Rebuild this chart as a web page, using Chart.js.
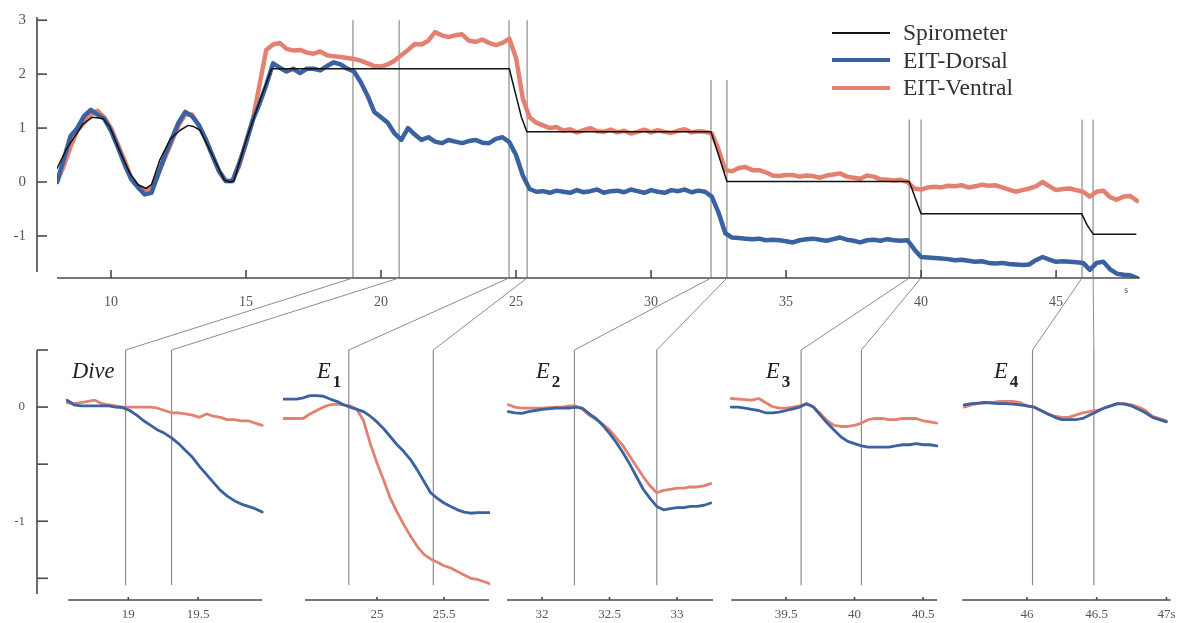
<!DOCTYPE html>
<html>
<head>
<meta charset="utf-8">
<script src="https://cdn.jsdelivr.net/npm/chart.js@4.4.1/dist/chart.umd.min.js"></script>
<style>
body{margin:0;background:#fff;}
#wrap{position:relative;width:1182px;height:623px;overflow:hidden;}
#wrap canvas{position:absolute;left:0;top:0;}
#legend{position:absolute;left:832px;top:19px;font:23.5px 'Liberation Serif',serif;color:#333;}
#legend .row{display:flex;align-items:center;height:27.5px;}
#legend .sw{display:inline-block;width:58px;margin-right:13px;}
.tag{position:absolute;top:360px;font:italic 22.5px/1 'Liberation Serif',serif;color:#222;}
.tag b{position:relative;top:9px;margin-left:2px;font:bold 17px/1 'Liberation Serif',serif;}
</style>
</head>
<body>
<div id="wrap">
	<div id="legend"></div>
	<div class="tag" style="left:72px">Dive</div>
	<div class="tag" style="left:317px">E<b>1</b></div>
	<div class="tag" style="left:536px">E<b>2</b></div>
	<div class="tag" style="left:766px">E<b>3</b></div>
	<div class="tag" style="left:994px">E<b>4</b></div>
</div>
<script>
const W = 1182, H = 623
const blue = "#3a62a0"
const red = "#e3806f"
const grey = "#555"
const serif = "'Liberation Serif', serif"

// ---- top panel (whole recording, sampled every 0.25 s from 8 s) ----
const topStart = 8, topStep = 0.25
const dorsalTop = [
	0.0, 0.42, 0.85, 1.0, 1.22, 1.34, 1.25, 1.17,
	0.95, 0.65, 0.33, 0.05, -0.1, -0.23, -0.2, 0.15,
	0.5, 0.8, 1.1, 1.3, 1.22, 1.06, 0.8, 0.5,
	0.2, 0.02, 0.02, 0.35, 0.72, 1.15, 1.45, 1.8,
	2.2, 2.12, 2.05, 2.1, 2.02, 2.1, 2.1, 2.07,
	2.15, 2.22, 2.18, 2.1, 2.05, 1.85, 1.6, 1.3,
	1.2, 1.1, 0.9, 0.78, 1.0, 0.88, 0.78, 0.83,
	0.75, 0.72, 0.78, 0.75, 0.72, 0.76, 0.78, 0.73,
	0.72, 0.8, 0.83, 0.74, 0.5, 0.12, -0.13, -0.18,
	-0.17, -0.2, -0.16, -0.18, -0.2, -0.15, -0.19, -0.17,
	-0.14, -0.2, -0.17, -0.16, -0.19, -0.14, -0.17, -0.2,
	-0.15, -0.18, -0.2, -0.15, -0.17, -0.14, -0.19, -0.16,
	-0.18, -0.27, -0.57, -0.95, -1.03, -1.04, -1.05, -1.06,
	-1.05, -1.08, -1.07, -1.08, -1.1, -1.12, -1.08, -1.06,
	-1.05, -1.07, -1.09, -1.06, -1.03, -1.07, -1.09, -1.12,
	-1.08, -1.07, -1.09, -1.06, -1.08, -1.09, -1.08, -1.25,
	-1.39, -1.4, -1.41, -1.42, -1.43, -1.45, -1.44, -1.46,
	-1.48, -1.47, -1.5, -1.51, -1.5, -1.52, -1.53, -1.54,
	-1.53, -1.45, -1.39, -1.44, -1.48, -1.47, -1.48, -1.49,
	-1.5, -1.63, -1.5, -1.48, -1.62, -1.7, -1.72, -1.73,
	-1.78
]
const ventralTop = [
	0.0, 0.3, 0.65, 0.95, 1.1, 1.25, 1.32, 1.2,
	1.0, 0.7, 0.4, 0.08, -0.08, -0.15, -0.1, 0.15,
	0.45, 0.75, 1.05, 1.25, 1.25, 1.05, 0.8, 0.5,
	0.2, 0.02, 0.02, 0.3, 0.75, 1.15, 1.8, 2.45,
	2.55, 2.58, 2.47, 2.44, 2.45, 2.4, 2.38, 2.42,
	2.35, 2.33, 2.32, 2.3, 2.28, 2.25, 2.2, 2.15,
	2.14, 2.18, 2.25, 2.35, 2.45, 2.56, 2.55, 2.62,
	2.78, 2.72, 2.69, 2.72, 2.74, 2.62, 2.6, 2.64,
	2.58, 2.54, 2.58, 2.66, 2.3, 1.55, 1.2, 1.1,
	1.05, 1.0, 1.02, 0.95, 0.98, 0.92, 0.96, 1.0,
	0.94, 0.93, 0.97, 0.92, 0.95, 0.9, 0.93, 0.97,
	0.92, 0.96, 0.93, 0.91, 0.95, 0.98, 0.92, 0.94,
	0.93, 0.9, 0.6, 0.22, 0.2, 0.26, 0.28, 0.22,
	0.22, 0.18, 0.12, 0.11, 0.13, 0.13, 0.1, 0.12,
	0.11, 0.08, 0.12, 0.14, 0.16, 0.1, 0.08, 0.06,
	0.12, 0.1, 0.05, 0.04, 0.03, 0.04, 0.0, -0.12,
	-0.14, -0.1, -0.09, -0.1, -0.07, -0.08, -0.06, -0.1,
	-0.08, -0.05, -0.07, -0.06, -0.1, -0.14, -0.18, -0.15,
	-0.12, -0.08, 0.0, -0.08, -0.15, -0.13, -0.12, -0.15,
	-0.18, -0.27, -0.18, -0.16, -0.28, -0.33, -0.27, -0.26,
	-0.35
]
const spiroT = [8, 8.36, 8.97, 9.3, 9.7, 9.96, 10.3, 10.7, 11.0, 11.3, 11.5, 11.8, 12.2, 12.56, 12.86, 13.05, 13.3, 13.79, 14.2, 14.4, 14.55, 15.0, 15.52, 15.95, 24.75, 24.9, 25.05, 25.2, 25.4, 32.22, 32.5, 32.81, 39.56, 40.0, 45.95, 46.15, 46.38, 47.95]
const spiroV = [0.25, 0.62, 1.08, 1.2, 1.18, 1.02, 0.6, 0.16, -0.05, -0.12, -0.05, 0.4, 0.8, 0.96, 1.05, 1.03, 0.96, 0.46, 0.03, 0.0, 0.02, 0.77, 1.52, 2.1, 2.1, 1.8, 1.5, 1.2, 0.93, 0.93, 0.5, 0.01, 0.01, -0.59, -0.59, -0.8, -0.97, -0.97]
const topXTicks = [10, 15, 20, 25, 30, 35, 40, 45]
const topYTicks = [-1, 0, 1, 2, 3]
// event markers on the top panel and how high each marker reaches
const events = [18.96, 20.67, 24.74, 25.41, 32.22, 32.81, 39.56, 40.0, 45.96, 46.37]
const eventTops = [3.0, 3.0, 3.0, 3.0, 1.89, 1.89, 1.16, 1.16, 1.16, 1.16]

// ---- zoomed panels (sampled every 0.05 s) ----
const zoomStep = 0.05
const zoomYTicks = [0.5, 0, -0.5, -1, -1.5]

const diveStart = 18.56
const diveDorsal = [0.06, 0.02, 0.01, 0.01, 0.01, 0.01, 0.01, 0.0, -0.005, -0.03, -0.07, -0.12, -0.16, -0.2, -0.23, -0.27, -0.32, -0.38, -0.44, -0.52, -0.59, -0.66, -0.73, -0.78, -0.82, -0.85, -0.87, -0.89, -0.92]
const diveVentral = [0.04, 0.03, 0.04, 0.05, 0.06, 0.03, 0.02, 0.01, 0.0, 0.0, 0.0, 0.0, 0.0, -0.01, -0.03, -0.05, -0.05, -0.06, -0.07, -0.09, -0.06, -0.08, -0.09, -0.11, -0.11, -0.12, -0.12, -0.14, -0.16]
const diveTicks = [19, 19.5]
const diveMarks = [18.98, 19.31]

const e1Start = 24.30
const e1Dorsal = [0.07, 0.07, 0.07, 0.08, 0.1, 0.1, 0.095, 0.07, 0.05, 0.02, 0.0, -0.02, -0.04, -0.08, -0.13, -0.19, -0.26, -0.33, -0.39, -0.46, -0.55, -0.65, -0.75, -0.8, -0.84, -0.87, -0.9, -0.92, -0.93, -0.925, -0.925, -0.925]
const e1Ventral = [-0.1, -0.1, -0.1, -0.1, -0.06, -0.03, 0.0, 0.02, 0.025, 0.02, 0.01, -0.02, -0.12, -0.32, -0.49, -0.64, -0.8, -0.92, -1.03, -1.13, -1.22, -1.29, -1.33, -1.36, -1.39, -1.41, -1.44, -1.47, -1.5, -1.51, -1.53, -1.55]
const e1Ticks = [25, 25.5]
const e1Marks = [24.79, 25.42]

const e2Start = 31.75
const e2Dorsal = [-0.04, -0.05, -0.055, -0.04, -0.03, -0.02, -0.015, -0.01, -0.01, -0.01, 0.0, -0.01, -0.06, -0.1, -0.16, -0.23, -0.31, -0.4, -0.5, -0.61, -0.72, -0.8, -0.87, -0.9, -0.89, -0.88, -0.88, -0.87, -0.87, -0.86, -0.84]
const e2Ventral = [0.02, 0.0, -0.01, -0.01, -0.01, -0.01, -0.005, 0.0, 0.0, 0.01, 0.01, -0.02, -0.07, -0.11, -0.15, -0.2, -0.27, -0.34, -0.43, -0.52, -0.61, -0.69, -0.75, -0.73, -0.72, -0.71, -0.71, -0.7, -0.7, -0.69, -0.67]
const e2Ticks = [32, 32.5, 33]
const e2Marks = [32.24, 32.85]

const e3Start = 39.10
const e3Dorsal = [0.0, 0.0, -0.01, -0.02, -0.03, -0.05, -0.05, -0.045, -0.03, -0.015, 0.0, 0.03, 0.0, -0.07, -0.14, -0.2, -0.26, -0.3, -0.32, -0.34, -0.35, -0.35, -0.35, -0.35, -0.34, -0.33, -0.33, -0.32, -0.33, -0.33, -0.34]
const e3Ventral = [0.075, 0.07, 0.065, 0.06, 0.075, 0.04, 0.005, -0.01, -0.01, 0.0, 0.01, 0.03, 0.0, -0.055, -0.12, -0.16, -0.17, -0.17, -0.16, -0.14, -0.11, -0.1, -0.1, -0.11, -0.11, -0.1, -0.1, -0.1, -0.12, -0.13, -0.14]
const e3Ticks = [39.5, 40, 40.5]
const e3Marks = [39.61, 40.05]

const e4Start = 45.55
const e4Dorsal = [0.02, 0.03, 0.035, 0.04, 0.035, 0.03, 0.03, 0.025, 0.02, 0.01, 0.0, -0.03, -0.06, -0.09, -0.11, -0.11, -0.11, -0.1, -0.07, -0.04, -0.01, 0.01, 0.03, 0.025, 0.01, -0.02, -0.05, -0.09, -0.11, -0.13]
const e4Ventral = [0.0, 0.02, 0.03, 0.04, 0.04, 0.05, 0.05, 0.05, 0.04, 0.01, 0.0, -0.03, -0.06, -0.08, -0.09, -0.09, -0.07, -0.05, -0.04, -0.03, -0.01, 0.01, 0.03, 0.03, 0.02, 0.0, -0.03, -0.08, -0.1, -0.12]
const e4Ticks = [46, 46.5, 47]
const e4Marks = [46.04, 46.48]

const wrap = document.querySelector("#wrap")
const legendElm = document.querySelector("#legend")
let topChart = null

function series(start, step, vals){
	return vals.map((v, i) => ({x: Math.round((start + i * step) * 1000) / 1000, y: v}))
}

function makeCanvas(id){
	let c = document.createElement("canvas")
	c.id = id
	c.width = W
	c.height = H
	wrap.insertBefore(c, legendElm)
	return c
}

function line(ctx, x0, y0, x1, y1){
	ctx.beginPath()
	ctx.moveTo(x0, y0)
	ctx.lineTo(x1, y1)
	ctx.stroke()
}

// fixed axis size, and no label overhang pushing the plot area around
function fixSize(size){
	return s => {
		if(s.isHorizontal()) s.height = size
		else s.width = size
		s.paddingTop = s.paddingBottom = s.paddingLeft = s.paddingRight = 0
	}
}

// detached axis lines with inward tick marks
function framePlugin(o){
	return {
		id: "frame",
		afterDraw(chart){
			const {ctx, chartArea} = chart
			const x = chart.scales.x, y = chart.scales.y
			const base = chartArea.bottom
			ctx.save()
			ctx.strokeStyle = "#4a4a4a"
			ctx.lineWidth = 1.6
			line(ctx, x.getPixelForValue(o.from), base, x.getPixelForValue(o.to), base)
			x.ticks.forEach(t => {
				let px = x.getPixelForValue(t.value)
				line(ctx, px, base, px, base - o.xTick)
			})
			if(o.yGap){
				let ax = chartArea.left - o.yGap
				line(ctx, ax, chartArea.top, ax, base - 6)
				y.ticks.forEach(t => {
					let py = y.getPixelForValue(t.value)
					line(ctx, ax, py, ax + o.yTick, py)
				})
			}
			if(o.unit){
				ctx.fillStyle = grey
				ctx.font = "10px " + serif
				ctx.textAlign = "center"
				ctx.textBaseline = "middle"
				ctx.fillText(o.unit, x.getPixelForValue(o.unitAt), base + 12)
			}
			ctx.restore()
		}
	}
}

// grey event markers; zoom panels also link back to the top panel
function markPlugin(o){
	return {
		id: "marks",
		beforeDatasetsDraw(chart){
			const {ctx, chartArea} = chart
			const x = chart.scales.x, y = chart.scales.y
			ctx.save()
			ctx.strokeStyle = "#8c8c8c"
			ctx.lineWidth = 1.2
			o.times.forEach((t, i) => {
				let px = x.getPixelForValue(t)
				let top = y.getPixelForValue(o.tops ? o.tops[i] : o.top)
				let bot = o.bottom === undefined ? chartArea.bottom : y.getPixelForValue(o.bottom)
				line(ctx, px, top, px, bot)
				if(o.links){
					let tx = topChart.scales.x.getPixelForValue(events[o.links[i]])
					ctx.lineWidth = 1
					line(ctx, px, top, tx, topChart.chartArea.bottom)
					ctx.lineWidth = 1.2
				}
			})
			ctx.restore()
		}
	}
}

topChart = new Chart(makeCanvas("top"), {
	type: "line",
	data: {
		datasets: [
			{label: "Spirometer", data: spiroT.map((t, i) => ({x: t, y: spiroV[i]})), borderColor: "#111", borderWidth: 1.5},
			{label: "EIT-Dorsal", data: series(topStart, topStep, dorsalTop), borderColor: blue, borderWidth: 4.5},
			{label: "EIT-Ventral", data: series(topStart, topStep, ventralTop), borderColor: red, borderWidth: 4.5}
		]
	},
	options: {
		responsive: false,
		animation: false,
		devicePixelRatio: 1,
		events: [],
		layout: {padding: {left: 0, top: 17, right: W - 1139, bottom: H - 278 - 30}},
		elements: {point: {radius: 0}, line: {tension: 0, borderCapStyle: "round", borderJoinStyle: "round"}},
		plugins: {legend: {display: false}, tooltip: {enabled: false}},
		scales: {
			x: {
				type: "linear", min: 8, max: 48.07,
				afterFit: fixSize(30),
				afterBuildTicks: s => { s.ticks = topXTicks.map(v => ({value: v})) },
				grid: {display: false, drawTicks: false},
				border: {display: false},
				ticks: {padding: 16, color: grey, font: {family: serif, size: 14}}
			},
			y: {
				min: -1.78, max: 3.06,
				afterFit: fixSize(57),
				afterBuildTicks: s => { s.ticks = topYTicks.map(v => ({value: v})) },
				grid: {display: false, drawTicks: false},
				border: {display: false},
				ticks: {padding: 31, color: grey, font: {family: serif, size: 15}}
			}
		}
	},
	plugins: [
		framePlugin({from: 8, to: 48.1, xTick: 8, yGap: 20, yTick: 10, unit: "s", unitAt: 47.6}),
		markPlugin({times: events, tops: eventTops})
	]
})

topChart.data.datasets.forEach(ds => {
	let row = document.createElement("div")
	row.className = "row"
	let sw = document.createElement("span")
	sw.className = "sw"
	sw.style.background = ds.borderColor
	sw.style.height = (ds.borderWidth < 2 ? 2 : 4) + "px"
	let txt = document.createElement("span")
	txt.innerText = ds.label
	row.appendChild(sw)
	row.appendChild(txt)
	legendElm.appendChild(row)
})

const panels = [
	{id: "dive", left: 66, right: 264, min: 18.553, max: 19.973, axis: [18.567, 19.96], start: diveStart, dorsal: diveDorsal, ventral: diveVentral, ticks: diveTicks, marks: diveMarks, links: [0, 1], yAxis: true},
	{id: "e1", left: 283, right: 490, min: 24.299, max: 25.843, axis: [24.463, 25.836], start: e1Start, dorsal: e1Dorsal, ventral: e1Ventral, ticks: e1Ticks, marks: e1Marks, links: [2, 3]},
	{id: "e2", left: 506, right: 714, min: 31.733, max: 33.274, axis: [31.741, 33.267], start: e2Start, dorsal: e2Dorsal, ventral: e2Ventral, ticks: e2Ticks, marks: e2Marks, links: [4, 5]},
	{id: "e3", left: 730, right: 938, min: 39.091, max: 40.609, axis: [39.1, 40.602], start: e3Start, dorsal: e3Dorsal, ventral: e3Ventral, ticks: e3Ticks, marks: e3Marks, links: [6, 7]},
	{id: "e4", left: 961, right: 1172, min: 45.527, max: 47.04, axis: [45.536, 47.03], start: e4Start, dorsal: e4Dorsal, ventral: e4Ventral, ticks: e4Ticks, marks: e4Marks, links: [8, 9]}
]

panels.forEach(p => {
	const yw = p.yAxis ? p.left : 0
	new Chart(makeCanvas(p.id), {
		type: "line",
		data: {
			datasets: [
				{label: "EIT-Dorsal", data: series(p.start, zoomStep, p.dorsal), borderColor: blue, borderWidth: 2.8},
				{label: "EIT-Ventral", data: series(p.start, zoomStep, p.ventral), borderColor: red, borderWidth: 2.8}
			]
		},
		options: {
			responsive: false,
			animation: false,
			devicePixelRatio: 1,
			events: [],
			layout: {padding: {left: p.left - yw, top: 350, right: W - p.right, bottom: 0}},
			elements: {point: {radius: 0}, line: {tension: 0, borderCapStyle: "round", borderJoinStyle: "round"}},
			plugins: {legend: {display: false}, tooltip: {enabled: false}},
			scales: {
				x: {
					type: "linear", min: p.min, max: p.max,
					afterFit: fixSize(23),
					afterBuildTicks: s => { s.ticks = p.ticks.map(v => ({value: v})) },
					grid: {display: false, drawTicks: false},
					border: {display: false},
					ticks: {
						padding: 7, color: grey, font: {family: serif, size: 13},
						callback: v => v === 47 ? "47s" : v
					}
				},
				y: {
					display: !!p.yAxis,
					min: -1.69, max: 0.5,
					afterFit: fixSize(yw),
					afterBuildTicks: s => { s.ticks = zoomYTicks.map(v => ({value: v})) },
					grid: {display: false, drawTicks: false},
					border: {display: false},
					ticks: {
						padding: 41, color: grey, font: {family: serif, size: 13},
						callback: v => Number.isInteger(v) ? v : ""
					}
				}
			}
		},
		plugins: [
			framePlugin({from: p.axis[0], to: p.axis[1], xTick: 3, yGap: p.yAxis ? 29 : 0, yTick: 11}),
			markPlugin({times: p.marks, top: 0.5, bottom: -1.56, links: p.links})
		]
	})
})
</script>
</body>
</html>
